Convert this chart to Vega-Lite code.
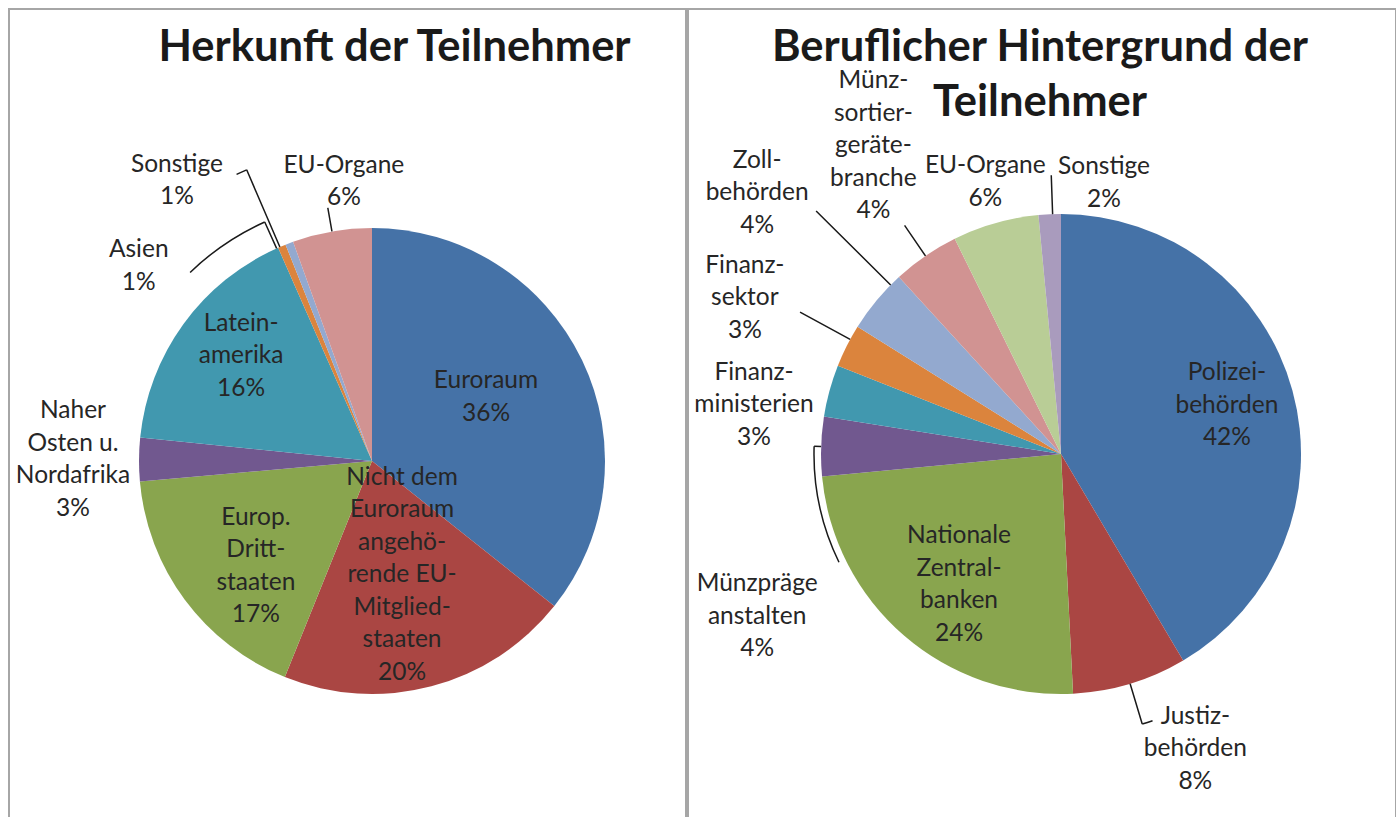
{
  "$schema": "https://vega.github.io/schema/vega-lite/v6.json",
  "background": "white",
  "padding": {"left": 8, "top": 8, "right": 3, "bottom": 0},
  "spacing": 0,
  "datasets": {
    "herkunft": [
      {"name": "Euroraum", "value": 35.7, "label": "Euroraum\n36%"},
      {"name": "Nicht dem Euroraum angehörende EU-Mitgliedstaaten", "value": 20.4, "label": "Nicht dem\nEuroraum\nangehö-\nrende EU-\nMitglied-\nstaaten\n20%"},
      {"name": "Europ. Drittstaaten", "value": 17.5, "label": "Europ.\nDritt-\nstaaten\n17%"},
      {"name": "Naher Osten u. Nordafrika", "value": 3.0, "label": "Naher\nOsten u.\nNordafrika\n3%"},
      {"name": "Lateinamerika", "value": 16.8, "label": "Latein-\namerika\n16%"},
      {"name": "Asien", "value": 0.55, "label": "Asien\n1%"},
      {"name": "Sonstige", "value": 0.55, "label": "Sonstige\n1%"},
      {"name": "EU-Organe", "value": 5.5, "label": "EU-Organe\n6%"}
    ],
    "beruf": [
      {"name": "Polizeibehörden", "value": 41.5, "label": "Polizei-\nbehörden\n42%"},
      {"name": "Justizbehörden", "value": 7.7, "label": "Justiz-\nbehörden\n8%"},
      {"name": "Nationale Zentralbanken", "value": 24.3, "label": "Nationale\nZentral-\nbanken\n24%"},
      {"name": "Münzprägeanstalten", "value": 4.0, "label": "Münzpräge\nanstalten\n4%"},
      {"name": "Finanzministerien", "value": 3.5, "label": "Finanz-\nministerien\n3%"},
      {"name": "Finanzsektor", "value": 2.9, "label": "Finanz-\nsektor\n3%"},
      {"name": "Zollbehörden", "value": 4.3, "label": "Zoll-\nbehörden\n4%"},
      {"name": "Münzsortiergerätebranche", "value": 4.5, "label": "Münz-\nsortier-\ngeräte-\nbranche\n4%"},
      {"name": "EU-Organe", "value": 5.8, "label": "EU-Organe\n6%"},
      {"name": "Sonstige", "value": 1.5, "label": "Sonstige\n2%"}
    ]
  },
  "resolve": {"scale": {"color": "independent", "theta": "independent"}},
  "hconcat": [
    {
      "width": 677,
      "height": 809,
      "title": {"text": "Herkunft der Teilnehmer", "anchor": "middle", "font": "Lato", "fontSize": 43.5, "fontWeight": "bold", "color": "#1a1a1a", "baseline": "alphabetic", "offset": -95, "dx": 47},
      "data": {"name": "herkunft"},
      "transform": [
        {"stack": "value", "groupby": [], "as": ["v0", "v1"]},
        {"calculate": "(datum.v0 + datum.v1) / 2", "as": "mid"}
      ],
      "encoding": {"x": {"value": 363}, "y": {"value": 452}},
      "layer": [
        {
          "mark": {"type": "arc", "radius": 233},
          "encoding": {
            "theta": {"field": "v0", "type": "quantitative", "scale": {"domain": [0, 100]}},
            "theta2": {"field": "v1"},
            "color": {"field": "name", "type": "nominal", "legend": null, "scale": {
              "domain": ["Euroraum", "Nicht dem Euroraum angehörende EU-Mitgliedstaaten", "Europ. Drittstaaten", "Naher Osten u. Nordafrika", "Lateinamerika", "Asien", "Sonstige", "EU-Organe"],
              "range": ["#4572A7", "#AA4643", "#89A54E", "#71588F", "#4198AF", "#DB843D", "#93A9CF", "#D19392"]}}
          }
        },
        {"transform": [{"filter": "datum.name === 'Euroraum'"}], "mark": {"type": "text", "radius": 131, "dx": -4, "dy": -23},
         "encoding": {"theta": {"field": "mid", "type": "quantitative", "scale": {"domain": [0, 100]}}, "text": {"field": "label"}}},
        {"transform": [{"filter": "datum.name === 'Nicht dem Euroraum angehörende EU-Mitgliedstaaten'"}], "mark": {"type": "text", "radius": 118, "dx": 0, "dy": -97.5},
         "encoding": {"theta": {"field": "mid", "type": "quantitative", "scale": {"domain": [0, 100]}}, "text": {"field": "label"}}},
        {"transform": [{"filter": "datum.name === 'Europ. Drittstaaten'"}], "mark": {"type": "text", "radius": 157, "dx": 10, "dy": -36.75},
         "encoding": {"theta": {"field": "mid", "type": "quantitative", "scale": {"domain": [0, 100]}}, "text": {"field": "label"}}},
        {"transform": [{"filter": "datum.name === 'Naher Osten u. Nordafrika'"}], "mark": {"type": "text", "radius": 298, "dx": -1, "dy": -47.75},
         "encoding": {"theta": {"field": "mid", "type": "quantitative", "scale": {"domain": [0, 100]}}, "text": {"field": "label"}}},
        {"transform": [{"filter": "datum.name === 'Lateinamerika'"}], "mark": {"type": "text", "radius": 168, "dx": 5, "dy": -38.5},
         "encoding": {"theta": {"field": "mid", "type": "quantitative", "scale": {"domain": [0, 100]}}, "text": {"field": "label"}}},
        {"transform": [{"filter": "datum.name === 'Asien'"}], "mark": {"type": "text", "radius": 303, "dx": -116, "dy": 68.75},
         "encoding": {"theta": {"field": "mid", "type": "quantitative", "scale": {"domain": [0, 100]}}, "text": {"field": "label"}}},
        {"transform": [{"filter": "datum.name === 'Sonstige'"}], "mark": {"type": "text", "radius": 341, "dx": -74, "dy": 22.75},
         "encoding": {"theta": {"field": "mid", "type": "quantitative", "scale": {"domain": [0, 100]}}, "text": {"field": "label"}}},
        {"transform": [{"filter": "datum.name === 'EU-Organe'"}], "mark": {"type": "text", "radius": 280, "dx": 20, "dy": -19.25},
         "encoding": {"theta": {"field": "mid", "type": "quantitative", "scale": {"domain": [0, 100]}}, "text": {"field": "label"}}},
        {"transform": [{"filter": "datum.name === 'EU-Organe'"}], "mark": {"type": "arc", "filled": false, "stroke": "#1a1a1a", "strokeWidth": 1.5, "radius": 257, "radius2": 233},
         "encoding": {"theta": {"field": "mid", "type": "quantitative", "scale": {"domain": [0, 100]}}, "theta2": {"field": "mid"}}},
        {"transform": [{"filter": "datum.name === 'Sonstige'"}], "mark": {"type": "arc", "filled": false, "stroke": "#1a1a1a", "strokeWidth": 1.5, "radius": 317, "radius2": 233, "thetaOffset": -0.0436, "theta2Offset": -0.0436},
         "encoding": {"theta": {"field": "mid", "type": "quantitative", "scale": {"domain": [0, 100]}}, "theta2": {"field": "mid"}}},
        {"transform": [{"filter": "datum.name === 'Sonstige'"}], "mark": {"type": "arc", "filled": false, "stroke": "#1a1a1a", "strokeWidth": 1.5, "radius": 317, "radius2": 317, "thetaOffset": -0.0436, "theta2Offset": -0.0785},
         "encoding": {"theta": {"field": "mid", "type": "quantitative", "scale": {"domain": [0, 100]}}, "theta2": {"field": "mid"}}},
        {"transform": [{"filter": "datum.name === 'Asien'"}], "mark": {"type": "arc", "filled": false, "stroke": "#1a1a1a", "strokeWidth": 1.5, "radius": 262, "radius2": 233, "thetaOffset": -0.0244, "theta2Offset": -0.0244},
         "encoding": {"theta": {"field": "mid", "type": "quantitative", "scale": {"domain": [0, 100]}}, "theta2": {"field": "mid"}}},
        {"transform": [{"filter": "datum.name === 'Asien'"}], "mark": {"type": "arc", "filled": false, "stroke": "#1a1a1a", "strokeWidth": 1.5, "radius": 262, "radius2": 262, "thetaOffset": -0.0244, "theta2Offset": -0.37},
         "encoding": {"theta": {"field": "mid", "type": "quantitative", "scale": {"domain": [0, 100]}}, "theta2": {"field": "mid"}}}
      ]
    },
    {
      "width": 708,
      "height": 809,
      "title": {"text": ["Beruflicher Hintergrund der", "Teilnehmer"], "anchor": "middle", "font": "Lato", "fontSize": 43.5, "fontWeight": "bold", "color": "#1a1a1a", "baseline": "alphabetic", "lineHeight": 55, "offset": -150, "dx": -2},
      "data": {"name": "beruf"},
      "transform": [
        {"stack": "value", "groupby": [], "as": ["v0", "v1"]},
        {"calculate": "(datum.v0 + datum.v1) / 2", "as": "mid"}
      ],
      "encoding": {"x": {"value": 373}, "y": {"value": 445}},
      "layer": [
        {
          "mark": {"type": "arc", "radius": 240},
          "encoding": {
            "theta": {"field": "v0", "type": "quantitative", "scale": {"domain": [0, 100]}},
            "theta2": {"field": "v1"},
            "color": {"field": "name", "type": "nominal", "legend": null, "scale": {
              "domain": ["Polizeibehörden", "Justizbehörden", "Nationale Zentralbanken", "Münzprägeanstalten", "Finanzministerien", "Finanzsektor", "Zollbehörden", "Münzsortiergerätebranche", "EU-Organe", "Sonstige"],
              "range": ["#4572A7", "#AA4643", "#89A54E", "#71588F", "#4198AF", "#DB843D", "#93A9CF", "#D19392", "#B9CD96", "#A99BBD"]}}
          }
        },
        {"transform": [{"filter": "datum.name === 'Polizeibehörden'"}], "mark": {"type": "text", "radius": 171, "dx": 1, "dy": -35.5},
         "encoding": {"theta": {"field": "mid", "type": "quantitative", "scale": {"domain": [0, 100]}}, "text": {"field": "label"}}},
        {"transform": [{"filter": "datum.name === 'Justizbehörden'"}], "mark": {"type": "text", "radius": 324, "dx": 41, "dy": -47.5},
         "encoding": {"theta": {"field": "mid", "type": "quantitative", "scale": {"domain": [0, 100]}}, "text": {"field": "label"}}},
        {"transform": [{"filter": "datum.name === 'Nationale Zentralbanken'"}], "mark": {"type": "text", "radius": 165, "dx": 6, "dy": -42.75},
         "encoding": {"theta": {"field": "mid", "type": "quantitative", "scale": {"domain": [0, 100]}}, "text": {"field": "label"}}},
        {"transform": [{"filter": "datum.name === 'Münzprägeanstalten'"}], "mark": {"type": "text", "radius": 302, "dx": -2, "dy": 139.5},
         "encoding": {"theta": {"field": "mid", "type": "quantitative", "scale": {"domain": [0, 100]}}, "text": {"field": "label"}}},
        {"transform": [{"filter": "datum.name === 'Finanzministerien'"}], "mark": {"type": "text", "radius": 310, "dx": -8, "dy": 0.5},
         "encoding": {"theta": {"field": "mid", "type": "quantitative", "scale": {"domain": [0, 100]}}, "text": {"field": "label"}}},
        {"transform": [{"filter": "datum.name === 'Finanzsektor'"}], "mark": {"type": "text", "radius": 352, "dx": -2, "dy": -29.5},
         "encoding": {"theta": {"field": "mid", "type": "quantitative", "scale": {"domain": [0, 100]}}, "text": {"field": "label"}}},
        {"transform": [{"filter": "datum.name === 'Zollbehörden'"}], "mark": {"type": "text", "radius": 398, "dx": 2, "dy": -38.5},
         "encoding": {"theta": {"field": "mid", "type": "quantitative", "scale": {"domain": [0, 100]}}, "text": {"field": "label"}}},
        {"transform": [{"filter": "datum.name === 'Münzsortiergerätebranche'"}], "mark": {"type": "text", "radius": 357, "dx": 14, "dy": -78},
         "encoding": {"theta": {"field": "mid", "type": "quantitative", "scale": {"domain": [0, 100]}}, "text": {"field": "label"}}},
        {"transform": [{"filter": "datum.name === 'EU-Organe'"}], "mark": {"type": "text", "radius": 281, "dx": 1, "dy": -17.25},
         "encoding": {"theta": {"field": "mid", "type": "quantitative", "scale": {"domain": [0, 100]}}, "text": {"field": "label"}}},
        {"transform": [{"filter": "datum.name === 'Sonstige'"}], "mark": {"type": "text", "radius": 275, "dx": 56, "dy": -12.25},
         "encoding": {"theta": {"field": "mid", "type": "quantitative", "scale": {"domain": [0, 100]}}, "text": {"field": "label"}}},
        {"transform": [{"filter": "datum.name === 'Justizbehörden'"}], "mark": {"type": "arc", "filled": false, "stroke": "#1a1a1a", "strokeWidth": 1.5, "radius": 282, "radius2": 240},
         "encoding": {"theta": {"field": "mid", "type": "quantitative", "scale": {"domain": [0, 100]}}, "theta2": {"field": "mid"}}},
        {"transform": [{"filter": "datum.name === 'Justizbehörden'"}], "mark": {"type": "arc", "filled": false, "stroke": "#1a1a1a", "strokeWidth": 1.5, "radius": 282, "radius2": 282, "thetaOffset": 0, "theta2Offset": -0.0384},
         "encoding": {"theta": {"field": "mid", "type": "quantitative", "scale": {"domain": [0, 100]}}, "theta2": {"field": "mid"}}},
        {"transform": [{"filter": "datum.name === 'Münzprägeanstalten'"}], "mark": {"type": "arc", "filled": false, "stroke": "#1a1a1a", "strokeWidth": 1.5, "radius": 247, "radius2": 240},
         "encoding": {"theta": {"field": "mid", "type": "quantitative", "scale": {"domain": [0, 100]}}, "theta2": {"field": "mid"}}},
        {"transform": [{"filter": "datum.name === 'Münzprägeanstalten'"}], "mark": {"type": "arc", "filled": false, "stroke": "#1a1a1a", "strokeWidth": 1.5, "radius": 247, "radius2": 247, "thetaOffset": 0, "theta2Offset": -0.485},
         "encoding": {"theta": {"field": "mid", "type": "quantitative", "scale": {"domain": [0, 100]}}, "theta2": {"field": "mid"}}},
        {"transform": [{"filter": "datum.name === 'Finanzsektor'"}], "mark": {"type": "arc", "filled": false, "stroke": "#1a1a1a", "strokeWidth": 1.5, "radius": 297, "radius2": 240, "thetaOffset": 0.0297, "theta2Offset": 0.0297},
         "encoding": {"theta": {"field": "mid", "type": "quantitative", "scale": {"domain": [0, 100]}}, "theta2": {"field": "mid"}}},
        {"transform": [{"filter": "datum.name === 'Zollbehörden'"}], "mark": {"type": "arc", "filled": false, "stroke": "#1a1a1a", "strokeWidth": 1.5, "radius": 345, "radius2": 240, "thetaOffset": 0.0873, "theta2Offset": 0.0873},
         "encoding": {"theta": {"field": "mid", "type": "quantitative", "scale": {"domain": [0, 100]}}, "theta2": {"field": "mid"}}},
        {"transform": [{"filter": "datum.name === 'Münzsortiergerätebranche'"}], "mark": {"type": "arc", "filled": false, "stroke": "#1a1a1a", "strokeWidth": 1.5, "radius": 277, "radius2": 240},
         "encoding": {"theta": {"field": "mid", "type": "quantitative", "scale": {"domain": [0, 100]}}, "theta2": {"field": "mid"}}},
        {"transform": [{"filter": "datum.name === 'Sonstige'"}], "mark": {"type": "arc", "filled": false, "stroke": "#1a1a1a", "strokeWidth": 1.5, "radius": 279, "radius2": 240, "thetaOffset": 0.0122, "theta2Offset": 0.0122},
         "encoding": {"theta": {"field": "mid", "type": "quantitative", "scale": {"domain": [0, 100]}}, "theta2": {"field": "mid"}}}
      ]
    }
  ],
  "config": {
    "view": {"stroke": "#a6a6a6", "strokeWidth": 2},
    "text": {"font": "Lato", "fontSize": 24.5, "lineHeight": 32.5, "lineBreak": "\n", "align": "center", "baseline": "middle", "color": "#262626"}
  }
}
